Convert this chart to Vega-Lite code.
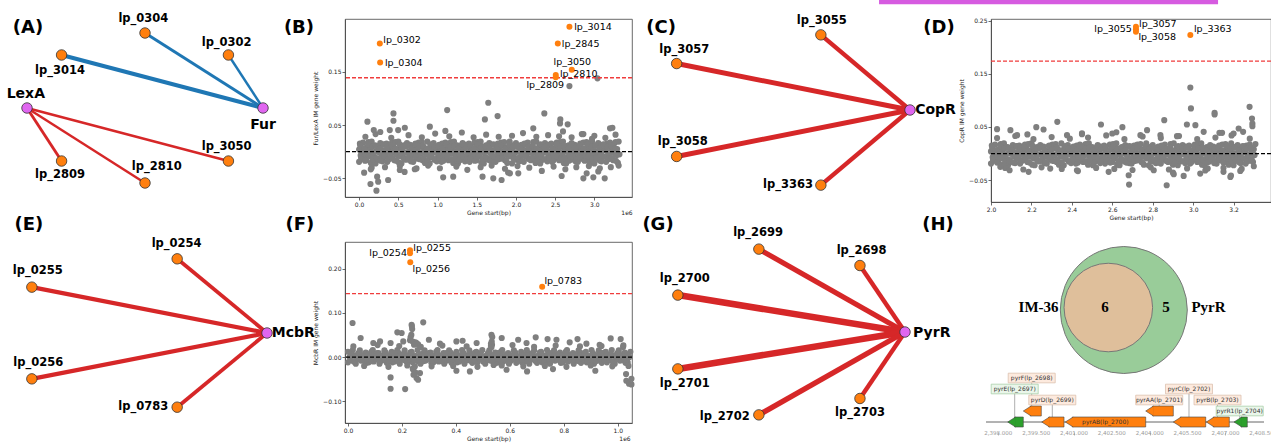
{
"$schema":"https://vega.github.io/schema/vega-lite/v6.json",
"padding":0,
"background":"white",
"columns":4,
"spacing":{"row":40,"column":0},
"bounds":"flush",
"align":"each",
"resolve":{"scale":{"color":"independent","fill":"independent","stroke":"independent","size":"independent","strokeWidth":"independent"}},
"config":{"view":{"stroke":null},"font":"DejaVu Sans","text":{"font":"DejaVu Sans"},
"axis":{"grid":false,"labelFont":"DejaVu Sans","titleFont":"DejaVu Sans","labelFontSize":6,"titleFontSize":6,"titleFontWeight":"normal","labelColor":"#222","titleColor":"#222","tickColor":"#444","domainColor":"#444","tickSize":3,"labelPadding":1,"labelFlush":false,"labelOverlap":false,"domainWidth":0.8,"tickWidth":0.8}},
"datasets":{
"nA":[{"id":"Fur","type":"reg","x":1,"y":0,"lx":1.0,"ly":-0.22},{"id":"lp_0302","type":"gene","x":0.707,"y":0.707,"lx":0.692,"ly":0.862},{"id":"lp_0304","type":"gene","x":0,"y":1,"lx":-0.014,"ly":1.184},{"id":"lp_3014","type":"gene","x":-0.707,"y":0.707,"lx":-0.72,"ly":0.5},{"id":"LexA","type":"reg","x":-1,"y":0,"lx":-1.01,"ly":0.191},{"id":"lp_2809","type":"gene","x":-0.707,"y":-0.707,"lx":-0.72,"ly":-0.893},{"id":"lp_2810","type":"gene","x":0,"y":-1,"lx":0.099,"ly":-0.782},{"id":"lp_3050","type":"gene","x":0.707,"y":-0.707,"lx":0.692,"ly":-0.516}],
"eA":[{"reg":"Fur","gene":"lp_3014","x":1,"y":0,"x2":-0.707,"y2":0.707,"w":0.5},{"reg":"Fur","gene":"lp_0304","x":1,"y":0,"x2":0,"y2":1,"w":0.38},{"reg":"Fur","gene":"lp_0302","x":1,"y":0,"x2":0.707,"y2":0.707,"w":0.3},{"reg":"LexA","gene":"lp_3050","x":-1,"y":0,"x2":0.707,"y2":-0.707,"w":0.31},{"reg":"LexA","gene":"lp_2810","x":-1,"y":0,"x2":0,"y2":-1,"w":0.31},{"reg":"LexA","gene":"lp_2809","x":-1,"y":0,"x2":-0.707,"y2":-0.707,"w":0.36}],
"nC":[{"id":"CopR","type":"reg","x":1,"y":0,"lx":1.198,"ly":0.004},{"id":"lp_3055","type":"gene","x":0.309,"y":0.951,"lx":0.316,"ly":1.123},{"id":"lp_3057","type":"gene","x":-0.809,"y":0.588,"lx":-0.75,"ly":0.759},{"id":"lp_3058","type":"gene","x":-0.809,"y":-0.588,"lx":-0.761,"ly":-0.401},{"id":"lp_3363","type":"gene","x":0.309,"y":-0.951,"lx":0.054,"ly":-0.949}],
"eC":[{"reg":"CopR","gene":"lp_3055","x":1,"y":0,"x2":0.309,"y2":0.951,"w":0.55},{"reg":"CopR","gene":"lp_3057","x":1,"y":0,"x2":-0.809,"y2":0.588,"w":0.62},{"reg":"CopR","gene":"lp_3058","x":1,"y":0,"x2":-0.809,"y2":-0.588,"w":0.62},{"reg":"CopR","gene":"lp_3363","x":1,"y":0,"x2":0.309,"y2":-0.951,"w":0.55}],
"nE":[{"id":"McbR","type":"reg","x":1,"y":0,"lx":1.202,"ly":-0.004},{"id":"lp_0254","type":"gene","x":0.309,"y":0.951,"lx":0.305,"ly":1.137},{"id":"lp_0255","type":"gene","x":-0.809,"y":0.588,"lx":-0.764,"ly":0.797},{"id":"lp_0256","type":"gene","x":-0.809,"y":-0.588,"lx":-0.759,"ly":-0.381},{"id":"lp_0783","type":"gene","x":0.309,"y":-0.951,"lx":0.048,"ly":-0.953}],
"eE":[{"reg":"McbR","gene":"lp_0254","x":1,"y":0,"x2":0.309,"y2":0.951,"w":0.47},{"reg":"McbR","gene":"lp_0255","x":1,"y":0,"x2":-0.809,"y2":0.588,"w":0.52},{"reg":"McbR","gene":"lp_0256","x":1,"y":0,"x2":-0.809,"y2":-0.588,"w":0.52},{"reg":"McbR","gene":"lp_0783","x":1,"y":0,"x2":0.309,"y2":-0.951,"w":0.47}],
"nG":[{"id":"PyrR","type":"reg","x":1,"y":0,"lx":1.224,"ly":-0.008},{"id":"lp_2698","type":"gene","x":0.623,"y":0.782,"lx":0.637,"ly":0.956},{"id":"lp_2699","type":"gene","x":-0.223,"y":0.975,"lx":-0.229,"ly":1.161},{"id":"lp_2700","type":"gene","x":-0.901,"y":0.434,"lx":-0.843,"ly":0.62},{"id":"lp_2701","type":"gene","x":-0.901,"y":-0.434,"lx":-0.843,"ly":-0.615},{"id":"lp_2702","type":"gene","x":-0.223,"y":-0.975,"lx":-0.508,"ly":-0.996},{"id":"lp_2703","type":"gene","x":0.623,"y":-0.782,"lx":0.623,"ly":-0.956}],
"eG":[{"reg":"PyrR","gene":"lp_2698","x":1,"y":0,"x2":0.623,"y2":0.782,"w":0.55},{"reg":"PyrR","gene":"lp_2699","x":1,"y":0,"x2":-0.223,"y2":0.975,"w":0.65},{"reg":"PyrR","gene":"lp_2700","x":1,"y":0,"x2":-0.901,"y2":0.434,"w":0.82},{"reg":"PyrR","gene":"lp_2701","x":1,"y":0,"x2":-0.901,"y2":-0.434,"w":0.82},{"reg":"PyrR","gene":"lp_2702","x":1,"y":0,"x2":-0.223,"y2":-0.975,"w":0.68},{"reg":"PyrR","gene":"lp_2703","x":1,"y":0,"x2":0.623,"y2":-0.782,"w":0.55}],
"banner":[{"x":0.76,"x2":3.388,"y":1.338,"y2":1.392}],
"bH":[{"id":"lp_0302","x":0.264,"y":0.2032,"lx":0.548,"ly":0.2094},{"id":"lp_0304","x":0.268,"y":0.1676,"lx":0.569,"ly":0.1673},{"id":"lp_3014","x":2.682,"y":0.2344,"lx":2.982,"ly":0.2344},{"id":"lp_2845","x":2.534,"y":0.2032,"lx":2.825,"ly":0.2029},{"id":"lp_3050","x":2.712,"y":0.1538,"lx":2.719,"ly":0.1691},{"id":"lp_2810","x":2.508,"y":0.1438,"lx":2.8,"ly":0.1453},{"id":"lp_2809","x":2.508,"y":0.1395,"lx":2.374,"ly":0.1256}],
"dH":[{"id":"lp_3055","x":2.717,"y":0.234,"lx":2.604,"ly":0.2334},{"id":"lp_3057","x":2.717,"y":0.2387,"lx":2.825,"ly":0.2441},{"id":"lp_3058","x":2.717,"y":0.2292,"lx":2.822,"ly":0.2192},{"id":"lp_3363","x":2.986,"y":0.223,"lx":3.097,"ly":0.2334}],
"fH":[{"id":"lp_0254","x":0.23,"y":0.2345,"lx":0.149,"ly":0.2341},{"id":"lp_0255","x":0.23,"y":0.2413,"lx":0.312,"ly":0.2454},{"id":"lp_0256","x":0.231,"y":0.2141,"lx":0.309,"ly":0.1987},{"id":"lp_0783","x":0.72,"y":0.1591,"lx":0.798,"ly":0.1712}],
"genes":[{"label":"pyrE(lp_2697)","left":2398373,"right":2398991,"glevel":0,"lx":2398650,"llevel":3,"grp":"green","inside":0},{"label":"pyrF(lp_2698)","left":2398991,"right":2399704,"glevel":1,"lx":2399324,"llevel":4,"grp":"orange","inside":0},{"label":"pyrD(lp_2699)","left":2399720,"right":2400604,"glevel":0,"lx":2400140,"llevel":2,"grp":"orange","inside":0},{"label":"pyrAB(lp_2700)","left":2400655,"right":2403840,"glevel":0,"lx":2402240,"llevel":0,"grp":"orange","inside":1},{"label":"pyrAA(lp_2701)","left":2403840,"right":2404934,"glevel":1,"lx":2404376,"llevel":2,"grp":"orange","inside":0},{"label":"pyrC(lp_2702)","left":2404934,"right":2406218,"glevel":0,"lx":2405556,"llevel":3,"grp":"orange","inside":0},{"label":"pyrB(lp_2703)","left":2406242,"right":2407153,"glevel":0,"lx":2406686,"llevel":2,"grp":"orange","inside":0},{"label":"pyrR1(lp_2704)","left":2407339,"right":2407866,"glevel":0,"lx":2407565,"llevel":1,"grp":"green","inside":0}],
"gticks":[{"bp":2398000,"lab":"2,398.000"},{"bp":2399500,"lab":"2,399.500"},{"bp":2401000,"lab":"2,401.000"},{"bp":2402500,"lab":"2,402.500"},{"bp":2404000,"lab":"2,404.000"},{"bp":2405500,"lab":"2,405.500"},{"bp":2407000,"lab":"2,407.000"},{"bp":2408500,"lab":"2,408.500"}],
"venn":[{"set":"PyrR","count":11,"x":0,"y":0},{"set":"IM-36","count":6,"x":-0.244,"y":0.039}],
"vtext":[{"t":"IM-36","x":-1.342,"y":0.047},{"t":"6","x":-0.296,"y":0.047},{"t":"5","x":0.665,"y":0.047},{"t":"PyrR","x":1.334,"y":0.047}],
"bG":[
{"x":0,"y":-0.019},{"x":0.02,"y":-0.007},{"x":0,"y":0.004},{"x":0.01,"y":0.015},
{"x":0.06,"y":-0.013},{"x":0.04,"y":-0.004},{"x":0.07,"y":0.006},{"x":0.05,"y":0.017},
{"x":0.09,"y":-0.016},{"x":0.11,"y":-0.003},{"x":0.1,"y":0.008},{"x":0.12,"y":0.018},
{"x":0.15,"y":-0.021},{"x":0.17,"y":-0.005},{"x":0.14,"y":0.005},{"x":0.16,"y":0.019},
{"x":0.21,"y":-0.022},{"x":0.19,"y":-0.01},{"x":0.22,"y":0.001},{"x":0.2,"y":0.012},
{"x":0.24,"y":-0.015},{"x":0.26,"y":-0.001},{"x":0.25,"y":0.01},{"x":0.27,"y":0.016},
{"x":0.3,"y":-0.018},{"x":0.32,"y":-0.009},{"x":0.29,"y":0.002},{"x":0.31,"y":0.013},
{"x":0.36,"y":-0.019},{"x":0.34,"y":-0.007},{"x":0.37,"y":0.004},{"x":0.35,"y":0.015},
{"x":0.39,"y":-0.013},{"x":0.41,"y":-0.004},{"x":0.4,"y":0.006},{"x":0.42,"y":0.017},
{"x":0.45,"y":-0.016},{"x":0.47,"y":-0.003},{"x":0.44,"y":0.008},{"x":0.46,"y":0.018},
{"x":0.51,"y":-0.021},{"x":0.49,"y":-0.005},{"x":0.52,"y":0.005},{"x":0.5,"y":0.019},
{"x":0.54,"y":-0.022},{"x":0.56,"y":-0.01},{"x":0.55,"y":0.001},{"x":0.57,"y":0.012},
{"x":0.6,"y":-0.015},{"x":0.62,"y":-0.001},{"x":0.59,"y":0.01},{"x":0.61,"y":0.016},
{"x":0.66,"y":-0.018},{"x":0.64,"y":-0.009},{"x":0.67,"y":0.002},{"x":0.65,"y":0.013},
{"x":0.69,"y":-0.019},{"x":0.71,"y":-0.007},{"x":0.7,"y":0.004},{"x":0.72,"y":0.015},
{"x":0.75,"y":-0.013},{"x":0.77,"y":-0.004},{"x":0.74,"y":0.006},{"x":0.76,"y":0.017},
{"x":0.81,"y":-0.016},{"x":0.79,"y":-0.003},{"x":0.82,"y":0.008},{"x":0.8,"y":0.018},
{"x":0.84,"y":-0.021},{"x":0.86,"y":-0.005},{"x":0.85,"y":0.005},{"x":0.87,"y":0.019},
{"x":0.9,"y":-0.022},{"x":0.92,"y":-0.01},{"x":0.89,"y":0.001},{"x":0.91,"y":0.012},
{"x":0.96,"y":-0.015},{"x":0.94,"y":-0.001},{"x":0.97,"y":0.01},{"x":0.95,"y":0.016},
{"x":0.99,"y":-0.018},{"x":1.01,"y":-0.009},{"x":1,"y":0.002},{"x":1.02,"y":0.013},
{"x":1.05,"y":-0.019},{"x":1.07,"y":-0.007},{"x":1.04,"y":0.004},{"x":1.06,"y":0.015},
{"x":1.11,"y":-0.013},{"x":1.09,"y":-0.004},{"x":1.12,"y":0.006},{"x":1.1,"y":0.017},
{"x":1.14,"y":-0.016},{"x":1.16,"y":-0.003},{"x":1.15,"y":0.008},{"x":1.17,"y":0.018},
{"x":1.2,"y":-0.021},{"x":1.22,"y":-0.005},{"x":1.19,"y":0.005},{"x":1.21,"y":0.019},
{"x":1.26,"y":-0.022},{"x":1.24,"y":-0.01},{"x":1.27,"y":0.001},{"x":1.25,"y":0.012},
{"x":1.29,"y":-0.015},{"x":1.31,"y":-0.001},{"x":1.3,"y":0.01},{"x":1.32,"y":0.016},
{"x":1.35,"y":-0.018},{"x":1.37,"y":-0.009},{"x":1.34,"y":0.002},{"x":1.36,"y":0.013},
{"x":1.41,"y":-0.019},{"x":1.39,"y":-0.007},{"x":1.42,"y":0.004},{"x":1.4,"y":0.015},
{"x":1.44,"y":-0.013},{"x":1.46,"y":-0.004},{"x":1.45,"y":0.006},{"x":1.47,"y":0.017},
{"x":1.5,"y":-0.016},{"x":1.52,"y":-0.003},{"x":1.49,"y":0.008},{"x":1.51,"y":0.018},
{"x":1.56,"y":-0.021},{"x":1.54,"y":-0.005},{"x":1.57,"y":0.005},{"x":1.55,"y":0.019},
{"x":1.59,"y":-0.022},{"x":1.61,"y":-0.01},{"x":1.6,"y":0.001},{"x":1.62,"y":0.012},
{"x":1.65,"y":-0.015},{"x":1.67,"y":-0.001},{"x":1.64,"y":0.01},{"x":1.66,"y":0.016},
{"x":1.71,"y":-0.018},{"x":1.69,"y":-0.009},{"x":1.72,"y":0.002},{"x":1.7,"y":0.013},
{"x":1.74,"y":-0.019},{"x":1.76,"y":-0.007},{"x":1.75,"y":0.004},{"x":1.77,"y":0.015},
{"x":1.8,"y":-0.013},{"x":1.82,"y":-0.004},{"x":1.79,"y":0.006},{"x":1.81,"y":0.017},
{"x":1.86,"y":-0.016},{"x":1.84,"y":-0.003},{"x":1.87,"y":0.008},{"x":1.85,"y":0.018},
{"x":1.89,"y":-0.021},{"x":1.91,"y":-0.005},{"x":1.9,"y":0.005},{"x":1.92,"y":0.019},
{"x":1.95,"y":-0.022},{"x":1.97,"y":-0.01},{"x":1.94,"y":0.001},{"x":1.96,"y":0.012},
{"x":2.01,"y":-0.015},{"x":1.99,"y":-0.001},{"x":2.02,"y":0.01},{"x":2,"y":0.016},
{"x":2.04,"y":-0.018},{"x":2.06,"y":-0.009},{"x":2.05,"y":0.002},{"x":2.07,"y":0.013},
{"x":2.1,"y":-0.019},{"x":2.12,"y":-0.007},{"x":2.09,"y":0.004},{"x":2.11,"y":0.015},
{"x":2.16,"y":-0.013},{"x":2.14,"y":-0.004},{"x":2.17,"y":0.006},{"x":2.15,"y":0.017},
{"x":2.19,"y":-0.016},{"x":2.21,"y":-0.003},{"x":2.2,"y":0.008},{"x":2.22,"y":0.018},
{"x":2.25,"y":-0.021},{"x":2.27,"y":-0.005},{"x":2.24,"y":0.005},{"x":2.26,"y":0.019},
{"x":2.31,"y":-0.022},{"x":2.29,"y":-0.01},{"x":2.32,"y":0.001},{"x":2.3,"y":0.012},
{"x":2.34,"y":-0.015},{"x":2.36,"y":-0.001},{"x":2.35,"y":0.01},{"x":2.37,"y":0.016},
{"x":2.4,"y":-0.018},{"x":2.42,"y":-0.009},{"x":2.39,"y":0.002},{"x":2.41,"y":0.013},
{"x":2.46,"y":-0.019},{"x":2.44,"y":-0.007},{"x":2.47,"y":0.004},{"x":2.45,"y":0.015},
{"x":2.49,"y":-0.013},{"x":2.51,"y":-0.004},{"x":2.5,"y":0.006},{"x":2.52,"y":0.017},
{"x":2.55,"y":-0.016},{"x":2.57,"y":-0.003},{"x":2.54,"y":0.008},{"x":2.56,"y":0.018},
{"x":2.61,"y":-0.021},{"x":2.59,"y":-0.005},{"x":2.62,"y":0.005},{"x":2.6,"y":0.019},
{"x":2.64,"y":-0.022},{"x":2.66,"y":-0.01},{"x":2.65,"y":0.001},{"x":2.67,"y":0.012},
{"x":2.7,"y":-0.015},{"x":2.72,"y":-0.001},{"x":2.69,"y":0.01},{"x":2.71,"y":0.016},
{"x":2.76,"y":-0.018},{"x":2.74,"y":-0.009},{"x":2.77,"y":0.002},{"x":2.75,"y":0.013},
{"x":2.79,"y":-0.019},{"x":2.81,"y":-0.007},{"x":2.8,"y":0.004},{"x":2.82,"y":0.015},
{"x":2.85,"y":-0.013},{"x":2.87,"y":-0.004},{"x":2.84,"y":0.006},{"x":2.86,"y":0.017},
{"x":2.91,"y":-0.016},{"x":2.89,"y":-0.003},{"x":2.92,"y":0.008},{"x":2.9,"y":0.018},
{"x":2.94,"y":-0.021},{"x":2.96,"y":-0.005},{"x":2.95,"y":0.005},{"x":2.97,"y":0.019},
{"x":3,"y":-0.022},{"x":3.02,"y":-0.01},{"x":2.99,"y":0.001},{"x":3.01,"y":0.012},
{"x":3.06,"y":-0.015},{"x":3.04,"y":-0.001},{"x":3.07,"y":0.01},{"x":3.05,"y":0.016},
{"x":3.09,"y":-0.018},{"x":3.11,"y":-0.009},{"x":3.1,"y":0.002},{"x":3.12,"y":0.013},
{"x":3.15,"y":-0.019},{"x":3.17,"y":-0.007},{"x":3.14,"y":0.004},{"x":3.16,"y":0.015},
{"x":3.21,"y":-0.013},{"x":3.19,"y":-0.004},{"x":3.22,"y":0.006},{"x":3.2,"y":0.017},
{"x":3.24,"y":-0.016},{"x":3.26,"y":-0.003},{"x":3.25,"y":0.008},{"x":3.27,"y":0.018},
{"x":3.3,"y":-0.021},{"x":3.32,"y":-0.005},{"x":3.29,"y":0.005},{"x":3.31,"y":0.019},
{"x":0.025,"y":-0.012},{"x":0.035,"y":0},{"x":0.015,"y":0.011},
{"x":0.075,"y":-0.017},{"x":0.085,"y":-0.006},{"x":0.065,"y":0.006},
{"x":0.125,"y":-0.009},{"x":0.135,"y":0.003},{"x":0.115,"y":0.014},
{"x":0.175,"y":-0.014},{"x":0.185,"y":-0.002},{"x":0.165,"y":0.009},
{"x":0.225,"y":-0.012},{"x":0.235,"y":0},{"x":0.215,"y":0.011},
{"x":0.275,"y":-0.017},{"x":0.285,"y":-0.006},{"x":0.265,"y":0.006},
{"x":0.325,"y":-0.009},{"x":0.335,"y":0.003},{"x":0.315,"y":0.014},
{"x":0.375,"y":-0.014},{"x":0.385,"y":-0.002},{"x":0.365,"y":0.009},
{"x":0.425,"y":-0.012},{"x":0.435,"y":0},{"x":0.415,"y":0.011},
{"x":0.475,"y":-0.017},{"x":0.485,"y":-0.006},{"x":0.465,"y":0.006},
{"x":0.525,"y":-0.009},{"x":0.535,"y":0.003},{"x":0.515,"y":0.014},
{"x":0.575,"y":-0.014},{"x":0.585,"y":-0.002},{"x":0.565,"y":0.009},
{"x":0.625,"y":-0.012},{"x":0.635,"y":0},{"x":0.615,"y":0.011},
{"x":0.675,"y":-0.017},{"x":0.685,"y":-0.006},{"x":0.665,"y":0.006},
{"x":0.725,"y":-0.009},{"x":0.735,"y":0.003},{"x":0.715,"y":0.014},
{"x":0.775,"y":-0.014},{"x":0.785,"y":-0.002},{"x":0.765,"y":0.009},
{"x":0.825,"y":-0.012},{"x":0.835,"y":0},{"x":0.815,"y":0.011},
{"x":0.875,"y":-0.017},{"x":0.885,"y":-0.006},{"x":0.865,"y":0.006},
{"x":0.925,"y":-0.009},{"x":0.935,"y":0.003},{"x":0.915,"y":0.014},
{"x":0.975,"y":-0.014},{"x":0.985,"y":-0.002},{"x":0.965,"y":0.009},
{"x":1.025,"y":-0.012},{"x":1.035,"y":0},{"x":1.015,"y":0.011},
{"x":1.075,"y":-0.017},{"x":1.085,"y":-0.006},{"x":1.065,"y":0.006},
{"x":1.125,"y":-0.009},{"x":1.135,"y":0.003},{"x":1.115,"y":0.014},
{"x":1.175,"y":-0.014},{"x":1.185,"y":-0.002},{"x":1.165,"y":0.009},
{"x":1.225,"y":-0.012},{"x":1.235,"y":0},{"x":1.215,"y":0.011},
{"x":1.275,"y":-0.017},{"x":1.285,"y":-0.006},{"x":1.265,"y":0.006},
{"x":1.325,"y":-0.009},{"x":1.335,"y":0.003},{"x":1.315,"y":0.014},
{"x":1.375,"y":-0.014},{"x":1.385,"y":-0.002},{"x":1.365,"y":0.009},
{"x":1.425,"y":-0.012},{"x":1.435,"y":0},{"x":1.415,"y":0.011},
{"x":1.475,"y":-0.017},{"x":1.485,"y":-0.006},{"x":1.465,"y":0.006},
{"x":1.525,"y":-0.009},{"x":1.535,"y":0.003},{"x":1.515,"y":0.014},
{"x":1.575,"y":-0.014},{"x":1.585,"y":-0.002},{"x":1.565,"y":0.009},
{"x":1.625,"y":-0.012},{"x":1.635,"y":0},{"x":1.615,"y":0.011},
{"x":1.675,"y":-0.017},{"x":1.685,"y":-0.006},{"x":1.665,"y":0.006},
{"x":1.725,"y":-0.009},{"x":1.735,"y":0.003},{"x":1.715,"y":0.014},
{"x":1.775,"y":-0.014},{"x":1.785,"y":-0.002},{"x":1.765,"y":0.009},
{"x":1.825,"y":-0.012},{"x":1.835,"y":0},{"x":1.815,"y":0.011},
{"x":1.875,"y":-0.017},{"x":1.885,"y":-0.006},{"x":1.865,"y":0.006},
{"x":1.925,"y":-0.009},{"x":1.935,"y":0.003},{"x":1.915,"y":0.014},
{"x":1.975,"y":-0.014},{"x":1.985,"y":-0.002},{"x":1.965,"y":0.009},
{"x":2.025,"y":-0.012},{"x":2.035,"y":0},{"x":2.015,"y":0.011},
{"x":2.075,"y":-0.017},{"x":2.085,"y":-0.006},{"x":2.065,"y":0.006},
{"x":2.125,"y":-0.009},{"x":2.135,"y":0.003},{"x":2.115,"y":0.014},
{"x":2.175,"y":-0.014},{"x":2.185,"y":-0.002},{"x":2.165,"y":0.009},
{"x":2.225,"y":-0.012},{"x":2.235,"y":0},{"x":2.215,"y":0.011},
{"x":2.275,"y":-0.017},{"x":2.285,"y":-0.006},{"x":2.265,"y":0.006},
{"x":2.325,"y":-0.009},{"x":2.335,"y":0.003},{"x":2.315,"y":0.014},
{"x":2.375,"y":-0.014},{"x":2.385,"y":-0.002},{"x":2.365,"y":0.009},
{"x":2.425,"y":-0.012},{"x":2.435,"y":0},{"x":2.415,"y":0.011},
{"x":2.475,"y":-0.017},{"x":2.485,"y":-0.006},{"x":2.465,"y":0.006},
{"x":2.525,"y":-0.009},{"x":2.535,"y":0.003},{"x":2.515,"y":0.014},
{"x":2.575,"y":-0.014},{"x":2.585,"y":-0.002},{"x":2.565,"y":0.009},
{"x":2.625,"y":-0.012},{"x":2.635,"y":0},{"x":2.615,"y":0.011},
{"x":2.675,"y":-0.017},{"x":2.685,"y":-0.006},{"x":2.665,"y":0.006},
{"x":2.725,"y":-0.009},{"x":2.735,"y":0.003},{"x":2.715,"y":0.014},
{"x":2.775,"y":-0.014},{"x":2.785,"y":-0.002},{"x":2.765,"y":0.009},
{"x":2.825,"y":-0.012},{"x":2.835,"y":0},{"x":2.815,"y":0.011},
{"x":2.875,"y":-0.017},{"x":2.885,"y":-0.006},{"x":2.865,"y":0.006},
{"x":2.925,"y":-0.009},{"x":2.935,"y":0.003},{"x":2.915,"y":0.014},
{"x":2.975,"y":-0.014},{"x":2.985,"y":-0.002},{"x":2.965,"y":0.009},
{"x":3.025,"y":-0.012},{"x":3.035,"y":0},{"x":3.015,"y":0.011},
{"x":3.075,"y":-0.017},{"x":3.085,"y":-0.006},{"x":3.065,"y":0.006},
{"x":3.125,"y":-0.009},{"x":3.135,"y":0.003},{"x":3.115,"y":0.014},
{"x":3.175,"y":-0.014},{"x":3.185,"y":-0.002},{"x":3.165,"y":0.009},
{"x":3.225,"y":-0.012},{"x":3.235,"y":0},{"x":3.215,"y":0.011},
{"x":3.275,"y":-0.017},{"x":3.285,"y":-0.006},{"x":3.265,"y":0.006},
{"x":0.08,"y":0.028},{"x":0.21,"y":0.033},{"x":0.33,"y":-0.029},{"x":0.41,"y":0.026},{"x":0.52,"y":-0.027},{"x":0.63,"y":0.031},{"x":0.71,"y":-0.033},{"x":0.8,"y":0.027},{"x":0.88,"y":-0.026},{"x":0.97,"y":0.034},{"x":1.03,"y":-0.031},{"x":1.15,"y":0.029},{"x":1.24,"y":-0.028},{"x":1.31,"y":0.036},{"x":1.38,"y":-0.034},{"x":1.46,"y":0.027},{"x":1.55,"y":-0.029},{"x":1.62,"y":0.032},{"x":1.69,"y":-0.026},{"x":1.78,"y":0.028},{"x":1.86,"y":-0.032},{"x":1.95,"y":0.03},{"x":2.02,"y":-0.027},{"x":2.09,"y":0.035},{"x":2.17,"y":-0.03},{"x":2.26,"y":0.028},{"x":2.33,"y":-0.036},{"x":2.41,"y":0.031},{"x":2.48,"y":-0.028},{"x":2.55,"y":0.029},{"x":2.63,"y":-0.033},{"x":2.71,"y":0.027},{"x":2.77,"y":-0.029},{"x":2.84,"y":0.033},{"x":2.93,"y":-0.027},{"x":3,"y":0.03},{"x":3.07,"y":-0.031},{"x":3.14,"y":0.026},{"x":3.21,"y":-0.029},{"x":3.27,"y":0.032},{"x":3.31,"y":-0.026},{"x":0.27,"y":0.037},{"x":0.58,"y":-0.038},{"x":1.1,"y":0.039},{"x":1.9,"y":-0.039},{"x":2.6,"y":0.038},{"x":3.05,"y":-0.037},{"x":0.16,"y":-0.03},{"x":2.97,"y":0.024},
{"x":1.647,"y":0.0919},{"x":1.123,"y":0.0781},{"x":1.766,"y":0.0669},{"x":2.362,"y":0.0719},{"x":0.438,"y":0.0719},{"x":0.438,"y":0.0581},{"x":0.106,"y":0.0563},{"x":1.604,"y":0.0606},{"x":2.566,"y":0.0606},{"x":2.562,"y":0.0531},{"x":0.583,"y":0.045},{"x":0.902,"y":0.0469},{"x":2.66,"y":0.0513},{"x":2.221,"y":0.0438},{"x":3.2,"y":0.0438},{"x":3.23,"y":0.045},{"x":2.86,"y":0.0331},{"x":0.187,"y":0.0406},{"x":0.391,"y":0.0406},{"x":0.498,"y":0.0406},{"x":0.221,"y":-0.0731},{"x":0.145,"y":-0.0606},{"x":0.064,"y":-0.0394},{"x":0.149,"y":-0.0331},{"x":0.23,"y":-0.0469},{"x":0.37,"y":-0.0531},{"x":0.243,"y":-0.0563},{"x":1.072,"y":-0.0481},{"x":1.2,"y":-0.0469},{"x":1.574,"y":-0.0469},{"x":1.711,"y":-0.05},{"x":1.817,"y":-0.0531},{"x":1.923,"y":-0.0406},{"x":2.03,"y":-0.0406},{"x":2.583,"y":-0.0456},{"x":2.86,"y":-0.05},{"x":2.987,"y":-0.0481},{"x":3.132,"y":-0.05},{"x":2.902,"y":-0.0406},{"x":0.519,"y":-0.0344},{"x":0.732,"y":-0.0313},{"x":2.682,"y":0.1232},{"x":3.04,"y":0.1376}],
"dG":[
{"x":2.0,"y":-0.019},{"x":2.008,"y":-0.007},{"x":2.0,"y":0.004},{"x":2.004,"y":0.015},
{"x":2.024,"y":-0.013},{"x":2.016,"y":-0.004},{"x":2.028,"y":0.006},{"x":2.02,"y":0.017},
{"x":2.036,"y":-0.016},{"x":2.044,"y":-0.003},{"x":2.04,"y":0.008},{"x":2.048,"y":0.018},
{"x":2.06,"y":-0.021},{"x":2.068,"y":-0.005},{"x":2.056,"y":0.005},{"x":2.064,"y":0.019},
{"x":2.084,"y":-0.022},{"x":2.076,"y":-0.01},{"x":2.088,"y":0.001},{"x":2.08,"y":0.012},
{"x":2.096,"y":-0.015},{"x":2.104,"y":-0.001},{"x":2.1,"y":0.01},{"x":2.108,"y":0.016},
{"x":2.12,"y":-0.018},{"x":2.128,"y":-0.009},{"x":2.116,"y":0.002},{"x":2.124,"y":0.013},
{"x":2.144,"y":-0.019},{"x":2.136,"y":-0.007},{"x":2.148,"y":0.004},{"x":2.14,"y":0.015},
{"x":2.156,"y":-0.013},{"x":2.164,"y":-0.004},{"x":2.16,"y":0.006},{"x":2.168,"y":0.017},
{"x":2.18,"y":-0.016},{"x":2.188,"y":-0.003},{"x":2.176,"y":0.008},{"x":2.184,"y":0.018},
{"x":2.204,"y":-0.021},{"x":2.196,"y":-0.005},{"x":2.208,"y":0.005},{"x":2.2,"y":0.019},
{"x":2.216,"y":-0.022},{"x":2.224,"y":-0.01},{"x":2.22,"y":0.001},{"x":2.228,"y":0.012},
{"x":2.24,"y":-0.015},{"x":2.248,"y":-0.001},{"x":2.236,"y":0.01},{"x":2.244,"y":0.016},
{"x":2.264,"y":-0.018},{"x":2.256,"y":-0.009},{"x":2.268,"y":0.002},{"x":2.26,"y":0.013},
{"x":2.276,"y":-0.019},{"x":2.284,"y":-0.007},{"x":2.28,"y":0.004},{"x":2.288,"y":0.015},
{"x":2.3,"y":-0.013},{"x":2.308,"y":-0.004},{"x":2.296,"y":0.006},{"x":2.304,"y":0.017},
{"x":2.324,"y":-0.016},{"x":2.316,"y":-0.003},{"x":2.328,"y":0.008},{"x":2.32,"y":0.018},
{"x":2.336,"y":-0.021},{"x":2.344,"y":-0.005},{"x":2.34,"y":0.005},{"x":2.348,"y":0.019},
{"x":2.36,"y":-0.022},{"x":2.368,"y":-0.01},{"x":2.356,"y":0.001},{"x":2.364,"y":0.012},
{"x":2.384,"y":-0.015},{"x":2.376,"y":-0.001},{"x":2.388,"y":0.01},{"x":2.38,"y":0.016},
{"x":2.396,"y":-0.018},{"x":2.404,"y":-0.009},{"x":2.4,"y":0.002},{"x":2.408,"y":0.013},
{"x":2.42,"y":-0.019},{"x":2.428,"y":-0.007},{"x":2.416,"y":0.004},{"x":2.424,"y":0.015},
{"x":2.444,"y":-0.013},{"x":2.436,"y":-0.004},{"x":2.448,"y":0.006},{"x":2.44,"y":0.017},
{"x":2.456,"y":-0.016},{"x":2.464,"y":-0.003},{"x":2.46,"y":0.008},{"x":2.468,"y":0.018},
{"x":2.48,"y":-0.021},{"x":2.488,"y":-0.005},{"x":2.476,"y":0.005},{"x":2.484,"y":0.019},
{"x":2.504,"y":-0.022},{"x":2.496,"y":-0.01},{"x":2.508,"y":0.001},{"x":2.5,"y":0.012},
{"x":2.516,"y":-0.015},{"x":2.524,"y":-0.001},{"x":2.52,"y":0.01},{"x":2.528,"y":0.016},
{"x":2.54,"y":-0.018},{"x":2.548,"y":-0.009},{"x":2.536,"y":0.002},{"x":2.544,"y":0.013},
{"x":2.564,"y":-0.019},{"x":2.556,"y":-0.007},{"x":2.568,"y":0.004},{"x":2.56,"y":0.015},
{"x":2.576,"y":-0.013},{"x":2.584,"y":-0.004},{"x":2.58,"y":0.006},{"x":2.588,"y":0.017},
{"x":2.6,"y":-0.016},{"x":2.608,"y":-0.003},{"x":2.596,"y":0.008},{"x":2.604,"y":0.018},
{"x":2.624,"y":-0.021},{"x":2.616,"y":-0.005},{"x":2.628,"y":0.005},{"x":2.62,"y":0.019},
{"x":2.636,"y":-0.022},{"x":2.644,"y":-0.01},{"x":2.64,"y":0.001},{"x":2.648,"y":0.012},
{"x":2.66,"y":-0.015},{"x":2.668,"y":-0.001},{"x":2.656,"y":0.01},{"x":2.664,"y":0.016},
{"x":2.684,"y":-0.018},{"x":2.676,"y":-0.009},{"x":2.688,"y":0.002},{"x":2.68,"y":0.013},
{"x":2.696,"y":-0.019},{"x":2.704,"y":-0.007},{"x":2.7,"y":0.004},{"x":2.708,"y":0.015},
{"x":2.72,"y":-0.013},{"x":2.728,"y":-0.004},{"x":2.716,"y":0.006},{"x":2.724,"y":0.017},
{"x":2.744,"y":-0.016},{"x":2.736,"y":-0.003},{"x":2.748,"y":0.008},{"x":2.74,"y":0.018},
{"x":2.756,"y":-0.021},{"x":2.764,"y":-0.005},{"x":2.76,"y":0.005},{"x":2.768,"y":0.019},
{"x":2.78,"y":-0.022},{"x":2.788,"y":-0.01},{"x":2.776,"y":0.001},{"x":2.784,"y":0.012},
{"x":2.804,"y":-0.015},{"x":2.796,"y":-0.001},{"x":2.808,"y":0.01},{"x":2.8,"y":0.016},
{"x":2.816,"y":-0.018},{"x":2.824,"y":-0.009},{"x":2.82,"y":0.002},{"x":2.828,"y":0.013},
{"x":2.84,"y":-0.019},{"x":2.848,"y":-0.007},{"x":2.836,"y":0.004},{"x":2.844,"y":0.015},
{"x":2.864,"y":-0.013},{"x":2.856,"y":-0.004},{"x":2.868,"y":0.006},{"x":2.86,"y":0.017},
{"x":2.876,"y":-0.016},{"x":2.884,"y":-0.003},{"x":2.88,"y":0.008},{"x":2.888,"y":0.018},
{"x":2.9,"y":-0.021},{"x":2.908,"y":-0.005},{"x":2.896,"y":0.005},{"x":2.904,"y":0.019},
{"x":2.924,"y":-0.022},{"x":2.916,"y":-0.01},{"x":2.928,"y":0.001},{"x":2.92,"y":0.012},
{"x":2.936,"y":-0.015},{"x":2.944,"y":-0.001},{"x":2.94,"y":0.01},{"x":2.948,"y":0.016},
{"x":2.96,"y":-0.018},{"x":2.968,"y":-0.009},{"x":2.956,"y":0.002},{"x":2.964,"y":0.013},
{"x":2.984,"y":-0.019},{"x":2.976,"y":-0.007},{"x":2.988,"y":0.004},{"x":2.98,"y":0.015},
{"x":2.996,"y":-0.013},{"x":3.004,"y":-0.004},{"x":3.0,"y":0.006},{"x":3.008,"y":0.017},
{"x":3.02,"y":-0.016},{"x":3.028,"y":-0.003},{"x":3.016,"y":0.008},{"x":3.024,"y":0.018},
{"x":3.044,"y":-0.021},{"x":3.036,"y":-0.005},{"x":3.048,"y":0.005},{"x":3.04,"y":0.019},
{"x":3.056,"y":-0.022},{"x":3.064,"y":-0.01},{"x":3.06,"y":0.001},{"x":3.068,"y":0.012},
{"x":3.08,"y":-0.015},{"x":3.088,"y":-0.001},{"x":3.076,"y":0.01},{"x":3.084,"y":0.016},
{"x":3.104,"y":-0.018},{"x":3.096,"y":-0.009},{"x":3.108,"y":0.002},{"x":3.1,"y":0.013},
{"x":3.116,"y":-0.019},{"x":3.124,"y":-0.007},{"x":3.12,"y":0.004},{"x":3.128,"y":0.015},
{"x":3.14,"y":-0.013},{"x":3.148,"y":-0.004},{"x":3.136,"y":0.006},{"x":3.144,"y":0.017},
{"x":3.164,"y":-0.016},{"x":3.156,"y":-0.003},{"x":3.168,"y":0.008},{"x":3.16,"y":0.018},
{"x":3.176,"y":-0.021},{"x":3.184,"y":-0.005},{"x":3.18,"y":0.005},{"x":3.188,"y":0.019},
{"x":3.2,"y":-0.022},{"x":3.208,"y":-0.01},{"x":3.196,"y":0.001},{"x":3.204,"y":0.012},
{"x":3.224,"y":-0.015},{"x":3.216,"y":-0.001},{"x":3.228,"y":0.01},{"x":3.22,"y":0.016},
{"x":3.236,"y":-0.018},{"x":3.244,"y":-0.009},{"x":3.24,"y":0.002},{"x":3.248,"y":0.013},
{"x":3.26,"y":-0.019},{"x":3.268,"y":-0.007},{"x":3.256,"y":0.004},{"x":3.264,"y":0.015},
{"x":3.284,"y":-0.013},{"x":3.276,"y":-0.004},{"x":3.288,"y":0.006},{"x":3.28,"y":0.017},
{"x":3.296,"y":-0.016},{"x":3.304,"y":-0.003},{"x":3.3,"y":0.008},{"x":3.308,"y":0.018},
{"x":2.01,"y":-0.012},{"x":2.014,"y":0},{"x":2.006,"y":0.011},
{"x":2.03,"y":-0.017},{"x":2.034,"y":-0.006},{"x":2.026,"y":0.006},
{"x":2.05,"y":-0.009},{"x":2.054,"y":0.003},{"x":2.046,"y":0.014},
{"x":2.07,"y":-0.014},{"x":2.074,"y":-0.002},{"x":2.066,"y":0.009},
{"x":2.09,"y":-0.012},{"x":2.094,"y":0},{"x":2.086,"y":0.011},
{"x":2.11,"y":-0.017},{"x":2.114,"y":-0.006},{"x":2.106,"y":0.006},
{"x":2.13,"y":-0.009},{"x":2.134,"y":0.003},{"x":2.126,"y":0.014},
{"x":2.15,"y":-0.014},{"x":2.154,"y":-0.002},{"x":2.146,"y":0.009},
{"x":2.17,"y":-0.012},{"x":2.174,"y":0},{"x":2.166,"y":0.011},
{"x":2.19,"y":-0.017},{"x":2.194,"y":-0.006},{"x":2.186,"y":0.006},
{"x":2.21,"y":-0.009},{"x":2.214,"y":0.003},{"x":2.206,"y":0.014},
{"x":2.23,"y":-0.014},{"x":2.234,"y":-0.002},{"x":2.226,"y":0.009},
{"x":2.25,"y":-0.012},{"x":2.254,"y":0},{"x":2.246,"y":0.011},
{"x":2.27,"y":-0.017},{"x":2.274,"y":-0.006},{"x":2.266,"y":0.006},
{"x":2.29,"y":-0.009},{"x":2.294,"y":0.003},{"x":2.286,"y":0.014},
{"x":2.31,"y":-0.014},{"x":2.314,"y":-0.002},{"x":2.306,"y":0.009},
{"x":2.33,"y":-0.012},{"x":2.334,"y":0},{"x":2.326,"y":0.011},
{"x":2.35,"y":-0.017},{"x":2.354,"y":-0.006},{"x":2.346,"y":0.006},
{"x":2.37,"y":-0.009},{"x":2.374,"y":0.003},{"x":2.366,"y":0.014},
{"x":2.39,"y":-0.014},{"x":2.394,"y":-0.002},{"x":2.386,"y":0.009},
{"x":2.41,"y":-0.012},{"x":2.414,"y":0},{"x":2.406,"y":0.011},
{"x":2.43,"y":-0.017},{"x":2.434,"y":-0.006},{"x":2.426,"y":0.006},
{"x":2.45,"y":-0.009},{"x":2.454,"y":0.003},{"x":2.446,"y":0.014},
{"x":2.47,"y":-0.014},{"x":2.474,"y":-0.002},{"x":2.466,"y":0.009},
{"x":2.49,"y":-0.012},{"x":2.494,"y":0},{"x":2.486,"y":0.011},
{"x":2.51,"y":-0.017},{"x":2.514,"y":-0.006},{"x":2.506,"y":0.006},
{"x":2.53,"y":-0.009},{"x":2.534,"y":0.003},{"x":2.526,"y":0.014},
{"x":2.55,"y":-0.014},{"x":2.554,"y":-0.002},{"x":2.546,"y":0.009},
{"x":2.57,"y":-0.012},{"x":2.574,"y":0},{"x":2.566,"y":0.011},
{"x":2.59,"y":-0.017},{"x":2.594,"y":-0.006},{"x":2.586,"y":0.006},
{"x":2.61,"y":-0.009},{"x":2.614,"y":0.003},{"x":2.606,"y":0.014},
{"x":2.63,"y":-0.014},{"x":2.634,"y":-0.002},{"x":2.626,"y":0.009},
{"x":2.65,"y":-0.012},{"x":2.654,"y":0},{"x":2.646,"y":0.011},
{"x":2.67,"y":-0.017},{"x":2.674,"y":-0.006},{"x":2.666,"y":0.006},
{"x":2.69,"y":-0.009},{"x":2.694,"y":0.003},{"x":2.686,"y":0.014},
{"x":2.71,"y":-0.014},{"x":2.714,"y":-0.002},{"x":2.706,"y":0.009},
{"x":2.73,"y":-0.012},{"x":2.734,"y":0},{"x":2.726,"y":0.011},
{"x":2.75,"y":-0.017},{"x":2.754,"y":-0.006},{"x":2.746,"y":0.006},
{"x":2.77,"y":-0.009},{"x":2.774,"y":0.003},{"x":2.766,"y":0.014},
{"x":2.79,"y":-0.014},{"x":2.794,"y":-0.002},{"x":2.786,"y":0.009},
{"x":2.81,"y":-0.012},{"x":2.814,"y":0},{"x":2.806,"y":0.011},
{"x":2.83,"y":-0.017},{"x":2.834,"y":-0.006},{"x":2.826,"y":0.006},
{"x":2.85,"y":-0.009},{"x":2.854,"y":0.003},{"x":2.846,"y":0.014},
{"x":2.87,"y":-0.014},{"x":2.874,"y":-0.002},{"x":2.866,"y":0.009},
{"x":2.89,"y":-0.012},{"x":2.894,"y":0},{"x":2.886,"y":0.011},
{"x":2.91,"y":-0.017},{"x":2.914,"y":-0.006},{"x":2.906,"y":0.006},
{"x":2.93,"y":-0.009},{"x":2.934,"y":0.003},{"x":2.926,"y":0.014},
{"x":2.95,"y":-0.014},{"x":2.954,"y":-0.002},{"x":2.946,"y":0.009},
{"x":2.97,"y":-0.012},{"x":2.974,"y":0},{"x":2.966,"y":0.011},
{"x":2.99,"y":-0.017},{"x":2.994,"y":-0.006},{"x":2.986,"y":0.006},
{"x":3.01,"y":-0.009},{"x":3.014,"y":0.003},{"x":3.006,"y":0.014},
{"x":3.03,"y":-0.014},{"x":3.034,"y":-0.002},{"x":3.026,"y":0.009},
{"x":3.05,"y":-0.012},{"x":3.054,"y":0},{"x":3.046,"y":0.011},
{"x":3.07,"y":-0.017},{"x":3.074,"y":-0.006},{"x":3.066,"y":0.006},
{"x":3.09,"y":-0.009},{"x":3.094,"y":0.003},{"x":3.086,"y":0.014},
{"x":3.11,"y":-0.014},{"x":3.114,"y":-0.002},{"x":3.106,"y":0.009},
{"x":3.13,"y":-0.012},{"x":3.134,"y":0},{"x":3.126,"y":0.011},
{"x":3.15,"y":-0.017},{"x":3.154,"y":-0.006},{"x":3.146,"y":0.006},
{"x":3.17,"y":-0.009},{"x":3.174,"y":0.003},{"x":3.166,"y":0.014},
{"x":3.19,"y":-0.014},{"x":3.194,"y":-0.002},{"x":3.186,"y":0.009},
{"x":3.21,"y":-0.012},{"x":3.214,"y":0},{"x":3.206,"y":0.011},
{"x":3.23,"y":-0.017},{"x":3.234,"y":-0.006},{"x":3.226,"y":0.006},
{"x":3.25,"y":-0.009},{"x":3.254,"y":0.003},{"x":3.246,"y":0.014},
{"x":3.27,"y":-0.014},{"x":3.274,"y":-0.002},{"x":3.266,"y":0.009},
{"x":3.29,"y":-0.012},{"x":3.294,"y":0},{"x":3.286,"y":0.011},
{"x":2.03,"y":0.029},{"x":2.07,"y":-0.027},{"x":2.12,"y":0.033},{"x":2.16,"y":-0.03},{"x":2.21,"y":0.027},{"x":2.25,"y":-0.026},{"x":2.3,"y":0.031},{"x":2.35,"y":-0.029},{"x":2.39,"y":0.028},{"x":2.43,"y":-0.033},{"x":2.48,"y":0.03},{"x":2.52,"y":-0.027},{"x":2.57,"y":0.034},{"x":2.61,"y":-0.029},{"x":2.66,"y":0.027},{"x":2.7,"y":-0.031},{"x":2.75,"y":0.032},{"x":2.79,"y":-0.026},{"x":2.84,"y":0.029},{"x":2.88,"y":-0.03},{"x":2.93,"y":0.033},{"x":2.97,"y":-0.028},{"x":3.02,"y":0.027},{"x":3.06,"y":-0.032},{"x":3.11,"y":0.03},{"x":3.15,"y":-0.027},{"x":3.19,"y":0.034},{"x":3.24,"y":-0.029},{"x":3.28,"y":0.028},{"x":3.3,"y":-0.024},{"x":2.45,"y":0.038},{"x":2.62,"y":0.04},{"x":2.9,"y":-0.036},{"x":3.13,"y":0.039},{"x":2.18,"y":0.036},
{"x":2.986,"y":0.1243},{"x":2.989,"y":0.0848},{"x":3.279,"y":0.0879},{"x":3.291,"y":0.0659},{"x":3.293,"y":0.0565},{"x":3.293,"y":0.0515},{"x":2.857,"y":0.0628},{"x":2.969,"y":0.0546},{"x":3.011,"y":0.0534},{"x":3.106,"y":0.0766},{"x":3.106,"y":0.0735},{"x":2.328,"y":0.0597},{"x":2.544,"y":0.0546},{"x":2.65,"y":0.0496},{"x":2.224,"y":0.0496},{"x":2.03,"y":0.0458},{"x":2.096,"y":0.044},{"x":2.26,"y":0.0452},{"x":3.225,"y":0.0471},{"x":3.247,"y":0.0408},{"x":3.052,"y":0.0408},{"x":2.772,"y":0.044},{"x":2.838,"y":0.0345},{"x":2.92,"y":0.0327},{"x":3.2,"y":0.0377},{"x":2.6,"y":0.0377},{"x":2.45,"y":0.0364},{"x":2.129,"y":0.0345},{"x":2.376,"y":0.0345},{"x":2.739,"y":0.0345},{"x":3.143,"y":0.039},{"x":2.681,"y":-0.0408},{"x":2.683,"y":-0.0584},{"x":2.869,"y":-0.0597},{"x":2.904,"y":-0.0389},{"x":2.953,"y":-0.0421},{"x":3.035,"y":-0.0377},{"x":3.184,"y":-0.044},{"x":3.187,"y":-0.0414},{"x":3.15,"y":-0.0345},{"x":2.092,"y":-0.0314},{"x":2.186,"y":-0.0345},{"x":2.582,"y":-0.0345},{"x":2.805,"y":-0.0314},{"x":3.072,"y":-0.0283},{"x":3.233,"y":-0.0327},{"x":2.046,"y":-0.0251},{"x":2.293,"y":-0.0283},{"x":2.425,"y":-0.0314}],
"fG":[
{"x":0,"y":-0.012},{"x":0.006,"y":0},{"x":0,"y":0.012},
{"x":0.021,"y":-0.01},{"x":0.011,"y":0.002},{"x":0.018,"y":0.016},
{"x":0.029,"y":-0.015},{"x":0.036,"y":-0.003},{"x":0.039,"y":0.009},
{"x":0.048,"y":-0.008},{"x":0.054,"y":0.004},{"x":0.044,"y":0.015},
{"x":0.069,"y":-0.013},{"x":0.059,"y":-0.001},{"x":0.066,"y":0.01},
{"x":0.077,"y":-0.012},{"x":0.084,"y":0},{"x":0.087,"y":0.012},
{"x":0.096,"y":-0.01},{"x":0.102,"y":0.002},{"x":0.092,"y":0.016},
{"x":0.117,"y":-0.015},{"x":0.107,"y":-0.003},{"x":0.114,"y":0.009},
{"x":0.125,"y":-0.008},{"x":0.132,"y":0.004},{"x":0.135,"y":0.015},
{"x":0.144,"y":-0.013},{"x":0.15,"y":-0.001},{"x":0.14,"y":0.01},
{"x":0.165,"y":-0.012},{"x":0.155,"y":0},{"x":0.162,"y":0.012},
{"x":0.173,"y":-0.01},{"x":0.18,"y":0.002},{"x":0.183,"y":0.016},
{"x":0.192,"y":-0.015},{"x":0.198,"y":-0.003},{"x":0.188,"y":0.009},
{"x":0.213,"y":-0.008},{"x":0.203,"y":0.004},{"x":0.21,"y":0.015},
{"x":0.221,"y":-0.013},{"x":0.228,"y":-0.001},{"x":0.231,"y":0.01},
{"x":0.24,"y":-0.012},{"x":0.246,"y":0},{"x":0.236,"y":0.012},
{"x":0.261,"y":-0.01},{"x":0.251,"y":0.002},{"x":0.258,"y":0.016},
{"x":0.269,"y":-0.015},{"x":0.276,"y":-0.003},{"x":0.279,"y":0.009},
{"x":0.288,"y":-0.008},{"x":0.294,"y":0.004},{"x":0.284,"y":0.015},
{"x":0.309,"y":-0.013},{"x":0.299,"y":-0.001},{"x":0.306,"y":0.01},
{"x":0.317,"y":-0.012},{"x":0.324,"y":0},{"x":0.327,"y":0.012},
{"x":0.336,"y":-0.01},{"x":0.342,"y":0.002},{"x":0.332,"y":0.016},
{"x":0.357,"y":-0.015},{"x":0.347,"y":-0.003},{"x":0.354,"y":0.009},
{"x":0.365,"y":-0.008},{"x":0.372,"y":0.004},{"x":0.375,"y":0.015},
{"x":0.384,"y":-0.013},{"x":0.39,"y":-0.001},{"x":0.38,"y":0.01},
{"x":0.405,"y":-0.012},{"x":0.395,"y":0},{"x":0.402,"y":0.012},
{"x":0.413,"y":-0.01},{"x":0.42,"y":0.002},{"x":0.423,"y":0.016},
{"x":0.432,"y":-0.015},{"x":0.438,"y":-0.003},{"x":0.428,"y":0.009},
{"x":0.453,"y":-0.008},{"x":0.443,"y":0.004},{"x":0.45,"y":0.015},
{"x":0.461,"y":-0.013},{"x":0.468,"y":-0.001},{"x":0.471,"y":0.01},
{"x":0.48,"y":-0.012},{"x":0.486,"y":0},{"x":0.476,"y":0.012},
{"x":0.501,"y":-0.01},{"x":0.491,"y":0.002},{"x":0.498,"y":0.016},
{"x":0.509,"y":-0.015},{"x":0.516,"y":-0.003},{"x":0.519,"y":0.009},
{"x":0.528,"y":-0.008},{"x":0.534,"y":0.004},{"x":0.524,"y":0.015},
{"x":0.549,"y":-0.013},{"x":0.539,"y":-0.001},{"x":0.546,"y":0.01},
{"x":0.557,"y":-0.012},{"x":0.564,"y":0},{"x":0.567,"y":0.012},
{"x":0.576,"y":-0.01},{"x":0.582,"y":0.002},{"x":0.572,"y":0.016},
{"x":0.597,"y":-0.015},{"x":0.587,"y":-0.003},{"x":0.594,"y":0.009},
{"x":0.605,"y":-0.008},{"x":0.612,"y":0.004},{"x":0.615,"y":0.015},
{"x":0.624,"y":-0.013},{"x":0.63,"y":-0.001},{"x":0.62,"y":0.01},
{"x":0.645,"y":-0.012},{"x":0.635,"y":0},{"x":0.642,"y":0.012},
{"x":0.653,"y":-0.01},{"x":0.66,"y":0.002},{"x":0.663,"y":0.016},
{"x":0.672,"y":-0.015},{"x":0.678,"y":-0.003},{"x":0.668,"y":0.009},
{"x":0.693,"y":-0.008},{"x":0.683,"y":0.004},{"x":0.69,"y":0.015},
{"x":0.701,"y":-0.013},{"x":0.708,"y":-0.001},{"x":0.711,"y":0.01},
{"x":0.72,"y":-0.012},{"x":0.726,"y":0},{"x":0.716,"y":0.012},
{"x":0.741,"y":-0.01},{"x":0.731,"y":0.002},{"x":0.738,"y":0.016},
{"x":0.749,"y":-0.015},{"x":0.756,"y":-0.003},{"x":0.759,"y":0.009},
{"x":0.768,"y":-0.008},{"x":0.774,"y":0.004},{"x":0.764,"y":0.015},
{"x":0.789,"y":-0.013},{"x":0.779,"y":-0.001},{"x":0.786,"y":0.01},
{"x":0.797,"y":-0.012},{"x":0.804,"y":0},{"x":0.807,"y":0.012},
{"x":0.816,"y":-0.01},{"x":0.822,"y":0.002},{"x":0.812,"y":0.016},
{"x":0.837,"y":-0.015},{"x":0.827,"y":-0.003},{"x":0.834,"y":0.009},
{"x":0.845,"y":-0.008},{"x":0.852,"y":0.004},{"x":0.855,"y":0.015},
{"x":0.864,"y":-0.013},{"x":0.87,"y":-0.001},{"x":0.86,"y":0.01},
{"x":0.885,"y":-0.012},{"x":0.875,"y":0},{"x":0.882,"y":0.012},
{"x":0.893,"y":-0.01},{"x":0.9,"y":0.002},{"x":0.903,"y":0.016},
{"x":0.912,"y":-0.015},{"x":0.918,"y":-0.003},{"x":0.908,"y":0.009},
{"x":0.933,"y":-0.008},{"x":0.923,"y":0.004},{"x":0.93,"y":0.015},
{"x":0.941,"y":-0.013},{"x":0.948,"y":-0.001},{"x":0.951,"y":0.01},
{"x":0.96,"y":-0.012},{"x":0.966,"y":0},{"x":0.956,"y":0.012},
{"x":0.981,"y":-0.01},{"x":0.971,"y":0.002},{"x":0.978,"y":0.016},
{"x":0.989,"y":-0.015},{"x":0.996,"y":-0.003},{"x":0.999,"y":0.009},
{"x":1.008,"y":-0.008},{"x":1.014,"y":0.004},{"x":1.004,"y":0.015},
{"x":1.029,"y":-0.013},{"x":1.019,"y":-0.001},{"x":1.026,"y":0.01},
{"x":1.037,"y":-0.012},{"x":1.044,"y":0},{"x":1.047,"y":0.012},
{"x":0.008,"y":-0.006},{"x":0.012,"y":0.006},{"x":0.024,"y":-0.009},{"x":0.028,"y":0.004},{"x":0.04,"y":-0.004},{"x":0.044,"y":0.009},{"x":0.056,"y":-0.007},{"x":0.06,"y":0.002},
{"x":0.072,"y":-0.006},{"x":0.076,"y":0.006},{"x":0.088,"y":-0.009},{"x":0.092,"y":0.004},{"x":0.104,"y":-0.004},{"x":0.108,"y":0.009},{"x":0.12,"y":-0.007},{"x":0.124,"y":0.002},
{"x":0.136,"y":-0.006},{"x":0.14,"y":0.006},{"x":0.152,"y":-0.009},{"x":0.156,"y":0.004},{"x":0.168,"y":-0.004},{"x":0.172,"y":0.009},{"x":0.184,"y":-0.007},{"x":0.188,"y":0.002},
{"x":0.2,"y":-0.006},{"x":0.204,"y":0.006},{"x":0.216,"y":-0.009},{"x":0.22,"y":0.004},{"x":0.232,"y":-0.004},{"x":0.236,"y":0.009},{"x":0.248,"y":-0.007},{"x":0.252,"y":0.002},
{"x":0.264,"y":-0.006},{"x":0.268,"y":0.006},{"x":0.28,"y":-0.009},{"x":0.284,"y":0.004},{"x":0.296,"y":-0.004},{"x":0.3,"y":0.009},{"x":0.312,"y":-0.007},{"x":0.316,"y":0.002},
{"x":0.328,"y":-0.006},{"x":0.332,"y":0.006},{"x":0.344,"y":-0.009},{"x":0.348,"y":0.004},{"x":0.36,"y":-0.004},{"x":0.364,"y":0.009},{"x":0.376,"y":-0.007},{"x":0.38,"y":0.002},
{"x":0.392,"y":-0.006},{"x":0.396,"y":0.006},{"x":0.408,"y":-0.009},{"x":0.412,"y":0.004},{"x":0.424,"y":-0.004},{"x":0.428,"y":0.009},{"x":0.44,"y":-0.007},{"x":0.444,"y":0.002},
{"x":0.456,"y":-0.006},{"x":0.46,"y":0.006},{"x":0.472,"y":-0.009},{"x":0.476,"y":0.004},{"x":0.488,"y":-0.004},{"x":0.492,"y":0.009},{"x":0.504,"y":-0.007},{"x":0.508,"y":0.002},
{"x":0.52,"y":-0.006},{"x":0.524,"y":0.006},{"x":0.536,"y":-0.009},{"x":0.54,"y":0.004},{"x":0.552,"y":-0.004},{"x":0.556,"y":0.009},{"x":0.568,"y":-0.007},{"x":0.572,"y":0.002},
{"x":0.584,"y":-0.006},{"x":0.588,"y":0.006},{"x":0.6,"y":-0.009},{"x":0.604,"y":0.004},{"x":0.616,"y":-0.004},{"x":0.62,"y":0.009},{"x":0.632,"y":-0.007},{"x":0.636,"y":0.002},
{"x":0.648,"y":-0.006},{"x":0.652,"y":0.006},{"x":0.664,"y":-0.009},{"x":0.668,"y":0.004},{"x":0.68,"y":-0.004},{"x":0.684,"y":0.009},{"x":0.696,"y":-0.007},{"x":0.7,"y":0.002},
{"x":0.712,"y":-0.006},{"x":0.716,"y":0.006},{"x":0.728,"y":-0.009},{"x":0.732,"y":0.004},{"x":0.744,"y":-0.004},{"x":0.748,"y":0.009},{"x":0.76,"y":-0.007},{"x":0.764,"y":0.002},
{"x":0.776,"y":-0.006},{"x":0.78,"y":0.006},{"x":0.792,"y":-0.009},{"x":0.796,"y":0.004},{"x":0.808,"y":-0.004},{"x":0.812,"y":0.009},{"x":0.824,"y":-0.007},{"x":0.828,"y":0.002},
{"x":0.84,"y":-0.006},{"x":0.844,"y":0.006},{"x":0.856,"y":-0.009},{"x":0.86,"y":0.004},{"x":0.872,"y":-0.004},{"x":0.876,"y":0.009},{"x":0.888,"y":-0.007},{"x":0.892,"y":0.002},
{"x":0.904,"y":-0.006},{"x":0.908,"y":0.006},{"x":0.92,"y":-0.009},{"x":0.924,"y":0.004},{"x":0.936,"y":-0.004},{"x":0.94,"y":0.009},{"x":0.952,"y":-0.007},{"x":0.956,"y":0.002},
{"x":0.968,"y":-0.006},{"x":0.972,"y":0.006},{"x":0.984,"y":-0.009},{"x":0.988,"y":0.004},{"x":1.0,"y":-0.004},{"x":1.004,"y":0.009},{"x":1.016,"y":-0.007},{"x":1.02,"y":0.002},
{"x":1.032,"y":-0.006},{"x":1.036,"y":0.006},
{"x":0.02,"y":0.024},{"x":0.06,"y":-0.02},{"x":0.11,"y":0.027},{"x":0.15,"y":-0.022},{"x":0.19,"y":0.025},{"x":0.22,"y":-0.019},{"x":0.27,"y":0.023},{"x":0.31,"y":-0.021},{"x":0.35,"y":0.026},{"x":0.39,"y":-0.02},{"x":0.44,"y":0.024},{"x":0.48,"y":-0.022},{"x":0.53,"y":0.025},{"x":0.57,"y":-0.019},{"x":0.61,"y":0.027},{"x":0.65,"y":-0.021},{"x":0.69,"y":0.023},{"x":0.73,"y":-0.02},{"x":0.77,"y":0.026},{"x":0.81,"y":-0.022},{"x":0.86,"y":0.024},{"x":0.9,"y":-0.019},{"x":0.94,"y":0.025},{"x":0.98,"y":-0.021},{"x":1.02,"y":0.023},{"x":1.04,"y":-0.02},{"x":0.25,"y":0.033},{"x":0.24,"y":-0.026},{"x":0.26,"y":0.029},{"x":0.23,"y":0.038},{"x":0.53,"y":0.03},{"x":0.54,"y":-0.018},
{"x":0.017,"y":0.0769},{"x":0.047,"y":0.043},{"x":0.094,"y":0.0317},{"x":0.183,"y":0.0558},{"x":0.199,"y":0.0543},{"x":0.236,"y":0.0731},{"x":0.237,"y":0.0694},{"x":0.238,"y":0.0633},{"x":0.232,"y":0.0445},{"x":0.279,"y":0.0784},{"x":0.3,"y":0.0392},{"x":0.158,"y":0.0317},{"x":0.532,"y":0.0505},{"x":0.535,"y":0.0452},{"x":0.57,"y":0.043},{"x":0.631,"y":0.0392},{"x":0.696,"y":0.0445},{"x":0.74,"y":0.0407},{"x":0.773,"y":0.0392},{"x":0.851,"y":0.0407},{"x":0.974,"y":0.0422},{"x":1.011,"y":0.0407},{"x":1.021,"y":0.0264},{"x":0.425,"y":0.0369},{"x":0.341,"y":0.0302},{"x":0.119,"y":0.0354},{"x":0.205,"y":0.0354},{"x":0.254,"y":0.0317},{"x":0.402,"y":0.0354},{"x":0.477,"y":0.0317},{"x":0.662,"y":0.0317},{"x":0.822,"y":0.0332},{"x":0.884,"y":0.0302},{"x":0.933,"y":0.0279},{"x":0.158,"y":-0.0716},{"x":0.212,"y":-0.0724},{"x":0.158,"y":-0.046},{"x":0.254,"y":-0.0475},{"x":0.26,"y":-0.0513},{"x":0.917,"y":-0.0309},{"x":1.031,"y":-0.0385},{"x":1.032,"y":-0.0535},{"x":1.051,"y":-0.049},{"x":1.042,"y":-0.0603},{"x":1.051,"y":-0.0618},{"x":0.664,"y":-0.0324},{"x":0.402,"y":-0.0309},{"x":0.267,"y":-0.0362},{"x":0.242,"y":-0.0287},{"x":0.248,"y":-0.0211},{"x":0.452,"y":-0.0324},{"x":0.588,"y":-0.0287},{"x":0.76,"y":-0.0271},{"x":0.533,"y":0.035},{"x":0.534,"y":0.028},{"x":0.532,"y":0.022},{"x":0.235,"y":0.05},{"x":0.24,"y":0.035},{"x":0.245,"y":0.028},{"x":0.25,"y":-0.035},{"x":0.243,"y":-0.04}]
},
"concat":[
{"width":345,"height":183,
 "layer":[
  {"data":{"name":"eA"},"mark":{"type":"rule"},
   "encoding":{"x":{"field":"x","type":"quantitative","scale":{"domain":[-1,1],"range":[27,263],"nice":false,"zero":false},"axis":null},
    "y":{"field":"y","type":"quantitative","scale":{"domain":[-1,1],"range":[164,14],"nice":false,"zero":false},"axis":null},
    "x2":{"field":"x2"},"y2":{"field":"y2"},
    "stroke":{"field":"reg","type":"nominal","scale":{"domain":["Fur","LexA","CopR","McbR","PyrR"],"range":["#1f77b4","#d62728","#d62728","#d62728","#d62728"]},"legend":null},
    "strokeWidth":{"field":"w","type":"quantitative","scale":{"domain":[0,1],"range":[0,8]},"legend":null}}},
  {"data":{"name":"nA"},"mark":{"type":"point","filled":true,"size":110,"stroke":"#333","strokeWidth":0.8,"opacity":1},
   "encoding":{"x":{"field":"x","type":"quantitative"},"y":{"field":"y","type":"quantitative"},
    "fill":{"field":"type","type":"nominal","scale":{"domain":["gene","reg"],"range":["#ff7f0e","#e066f0"]},"legend":null}}},
  {"data":{"name":"nA"},"mark":{"type":"text","fontWeight":"bold","font":"DejaVu Sans","color":"black"},
   "encoding":{"x":{"field":"lx","type":"quantitative"},"y":{"field":"ly","type":"quantitative"},"text":{"field":"id","type":"nominal"},
    "size":{"condition":{"test":"datum.type==='reg'","value":14},"value":11.5}}},
  {"data":{"values":[{}]},"mark":{"type":"text","text":"(A)","fontSize":18,"fontWeight":"bold","color":"black"},
   "encoding":{"x":{"datum":-0.992,"type":"quantitative"},"y":{"datum":1.067,"type":"quantitative"}}}
 ]},
{"width":287,"height":178,"view":{"stroke":"#444","strokeWidth":0.8},
 "layer":[
  {"data":{"name":"bG"},"mark":{"type":"circle","size":38,"color":"#7f7f7f","opacity":1},
   "encoding":{"x":{"field":"x","type":"quantitative","scale":{"domain":[-0.18,3.48],"nice":false,"zero":false},"axis":{"title":"Gene start(bp)","values":[0,0.5,1,1.5,2,2.5,3],"format":".1f","titlePadding":2}},
    "y":{"field":"y","type":"quantitative","scale":{"domain":[-0.085,0.249],"nice":false,"zero":false},"axis":{"title":"Fur/LexA IM gene weight","values":[-0.05,0,0.05,0.1,0.15,0.2],"format":".2f","titlePadding":4}}}},
  {"data":{"values":[{}]},"mark":{"type":"rule","color":"black","strokeDash":[4,2],"strokeWidth":1.3},"encoding":{"y":{"datum":0,"type":"quantitative"}}},
  {"data":{"values":[{}]},"mark":{"type":"rule","color":"#f03c3c","strokeDash":[4,2],"strokeWidth":1.3},"encoding":{"y":{"datum":0.1388,"type":"quantitative"}}},
  {"data":{"name":"bH"},"mark":{"type":"circle","size":36,"color":"#ff7f0e","opacity":1},"encoding":{"x":{"field":"x","type":"quantitative"},"y":{"field":"y","type":"quantitative"}}},
  {"data":{"name":"bH"},"mark":{"type":"text","fontSize":9.5,"color":"black"},"encoding":{"x":{"field":"lx","type":"quantitative"},"y":{"field":"ly","type":"quantitative"},"text":{"field":"id","type":"nominal"}}},
  {"data":{"values":[{}]},"mark":{"type":"text","text":"(B)","fontSize":18,"fontWeight":"bold","color":"black"},"encoding":{"x":{"datum":-0.767,"type":"quantitative"},"y":{"datum":0.232,"type":"quantitative"}}},
  {"data":{"values":[{}]},"mark":{"type":"text","text":"1e6","fontSize":6,"color":"#222"},"encoding":{"x":{"datum":3.416,"type":"quantitative"},"y":{"datum":-0.115,"type":"quantitative"}}}
 ]},
{"width":359,"height":183,
 "layer":[
  {"data":{"name":"eC"},"mark":{"type":"rule"},
   "encoding":{"x":{"field":"x","type":"quantitative","scale":{"domain":[-1,1],"range":[20,278],"nice":false,"zero":false},"axis":null},
    "y":{"field":"y","type":"quantitative","scale":{"domain":[-1,1],"range":[170,12],"nice":false,"zero":false},"axis":null},
    "x2":{"field":"x2"},"y2":{"field":"y2"},
    "stroke":{"field":"reg","type":"nominal","scale":{"domain":["Fur","LexA","CopR","McbR","PyrR"],"range":["#1f77b4","#d62728","#d62728","#d62728","#d62728"]},"legend":null},
    "strokeWidth":{"field":"w","type":"quantitative","scale":{"domain":[0,1],"range":[0,8]},"legend":null}}},
  {"data":{"name":"nC"},"mark":{"type":"point","filled":true,"size":110,"stroke":"#333","strokeWidth":0.8,"opacity":1},
   "encoding":{"x":{"field":"x","type":"quantitative"},"y":{"field":"y","type":"quantitative"},
    "fill":{"field":"type","type":"nominal","scale":{"domain":["gene","reg"],"range":["#ff7f0e","#e066f0"]},"legend":null}}},
  {"data":{"name":"nC"},"mark":{"type":"text","fontWeight":"bold","font":"DejaVu Sans","color":"black"},
   "encoding":{"x":{"field":"lx","type":"quantitative"},"y":{"field":"ly","type":"quantitative"},"text":{"field":"id","type":"nominal"},
    "size":{"condition":{"test":"datum.type==='reg'","value":14},"value":11.5}}},
  {"data":{"values":[{}]},"mark":{"type":"text","text":"(C)","fontSize":18,"fontWeight":"bold","color":"black"},
   "encoding":{"x":{"datum":-0.93,"type":"quantitative"},"y":{"datum":1.038,"type":"quantitative"}}},
  {"data":{"name":"banner"},"mark":{"type":"rect","color":"#d65be0"},
   "encoding":{"x":{"field":"x","type":"quantitative"},"x2":{"field":"x2"},"y":{"field":"y","type":"quantitative"},"y2":{"field":"y2"}}}
 ]},
{"width":280,"height":183,"view":{"stroke":"#444","strokeWidth":0.8},
 "layer":[
  {"data":{"name":"dG"},"mark":{"type":"circle","size":38,"color":"#7f7f7f","opacity":1},
   "encoding":{"x":{"field":"x","type":"quantitative","scale":{"domain":[2.0,3.385],"nice":false,"zero":false},"axis":{"title":"Gene start(bp)","values":[2.0,2.2,2.4,2.6,2.8,3.0,3.2],"format":".1f","titlePadding":2}},
    "y":{"field":"y","type":"quantitative","scale":{"domain":[-0.0912,0.2531],"nice":false,"zero":false},"axis":{"title":"CopR IM gene weight","values":[-0.05,0,0.05,0.1,0.15,0.2,0.25],"format":".2f","titlePadding":4}}}},
  {"data":{"values":[{}]},"mark":{"type":"rule","color":"black","strokeDash":[4,2],"strokeWidth":1.3},"encoding":{"y":{"datum":0,"type":"quantitative"}}},
  {"data":{"values":[{}]},"mark":{"type":"rule","color":"#f03c3c","strokeDash":[4,2],"strokeWidth":1.3},"encoding":{"y":{"datum":0.174,"type":"quantitative"}}},
  {"data":{"name":"dH"},"mark":{"type":"circle","size":36,"color":"#ff7f0e","opacity":1},"encoding":{"x":{"field":"x","type":"quantitative"},"y":{"field":"y","type":"quantitative"}}},
  {"data":{"name":"dH"},"mark":{"type":"text","fontSize":9.5,"color":"black"},"encoding":{"x":{"field":"lx","type":"quantitative"},"y":{"field":"ly","type":"quantitative"},"text":{"field":"id","type":"nominal"}}},
  {"data":{"values":[{}]},"mark":{"type":"text","text":"(D)","fontSize":18,"fontWeight":"bold","color":"black"},"encoding":{"x":{"datum":1.743,"type":"quantitative"},"y":{"datum":0.236,"type":"quantitative"}}}
 ]},
{"width":345,"height":186,
 "layer":[
  {"data":{"name":"eE"},"mark":{"type":"rule"},
   "encoding":{"x":{"field":"x","type":"quantitative","scale":{"domain":[-1,1],"range":[7,267],"nice":false,"zero":false},"axis":null},
    "y":{"field":"y","type":"quantitative","scale":{"domain":[-1,1],"range":[169,13],"nice":false,"zero":false},"axis":null},
    "x2":{"field":"x2"},"y2":{"field":"y2"},
    "stroke":{"field":"reg","type":"nominal","scale":{"domain":["Fur","LexA","CopR","McbR","PyrR"],"range":["#1f77b4","#d62728","#d62728","#d62728","#d62728"]},"legend":null},
    "strokeWidth":{"field":"w","type":"quantitative","scale":{"domain":[0,1],"range":[0,8]},"legend":null}}},
  {"data":{"name":"nE"},"mark":{"type":"point","filled":true,"size":110,"stroke":"#333","strokeWidth":0.8,"opacity":1},
   "encoding":{"x":{"field":"x","type":"quantitative"},"y":{"field":"y","type":"quantitative"},
    "fill":{"field":"type","type":"nominal","scale":{"domain":["gene","reg"],"range":["#ff7f0e","#e066f0"]},"legend":null}}},
  {"data":{"name":"nE"},"mark":{"type":"text","fontWeight":"bold","font":"DejaVu Sans","color":"black"},
   "encoding":{"x":{"field":"lx","type":"quantitative"},"y":{"field":"ly","type":"quantitative"},"text":{"field":"id","type":"nominal"},
    "size":{"condition":{"test":"datum.type==='reg'","value":14},"value":11.5}}},
  {"data":{"values":[{}]},"mark":{"type":"text","text":"(E)","fontSize":18,"fontWeight":"bold","color":"black"},
   "encoding":{"x":{"datum":-0.831,"type":"quantitative"},"y":{"datum":1.385,"type":"quantitative"}}}
 ]},
{"width":287,"height":181,"view":{"stroke":"#444","strokeWidth":0.8},
 "layer":[
  {"data":{"name":"fG"},"mark":{"type":"circle","size":38,"color":"#7f7f7f","opacity":1},
   "encoding":{"x":{"field":"x","type":"quantitative","scale":{"domain":[-0.011,1.053],"nice":false,"zero":false},"axis":{"title":"Gene start(bp)","values":[0,0.2,0.4,0.6,0.8,1.0],"format":".1f","titlePadding":2}},
    "y":{"field":"y","type":"quantitative","scale":{"domain":[-0.149,0.26],"nice":false,"zero":false},"axis":{"title":"McbR IM gene weight","values":[-0.1,-0.05,0,0.05,0.1,0.15,0.2,0.25],"format":".2f","titlePadding":4}}}},
  {"data":{"values":[{}]},"mark":{"type":"rule","color":"black","strokeDash":[4,2],"strokeWidth":1.3},"encoding":{"y":{"datum":0,"type":"quantitative"}}},
  {"data":{"values":[{}]},"mark":{"type":"rule","color":"#f03c3c","strokeDash":[4,2],"strokeWidth":1.3},"encoding":{"y":{"datum":0.1433,"type":"quantitative"}}},
  {"data":{"name":"fH"},"mark":{"type":"circle","size":36,"color":"#ff7f0e","opacity":1},"encoding":{"x":{"field":"x","type":"quantitative"},"y":{"field":"y","type":"quantitative"}}},
  {"data":{"name":"fH"},"mark":{"type":"text","fontSize":9.5,"color":"black"},"encoding":{"x":{"field":"lx","type":"quantitative"},"y":{"field":"ly","type":"quantitative"},"text":{"field":"id","type":"nominal"}}},
  {"data":{"values":[{}]},"mark":{"type":"text","text":"(F)","fontSize":18,"fontWeight":"bold","color":"black"},"encoding":{"x":{"datum":-0.178,"type":"quantitative"},"y":{"datum":0.298,"type":"quantitative"}}},
  {"data":{"values":[{}]},"mark":{"type":"text","text":"1e6","fontSize":6,"color":"#222"},"encoding":{"x":{"datum":1.027,"type":"quantitative"},"y":{"datum":-0.185,"type":"quantitative"}}}
 ]},
{"width":359,"height":186,
 "layer":[
  {"data":{"name":"eG"},"mark":{"type":"rule"},
   "encoding":{"x":{"field":"x","type":"quantitative","scale":{"domain":[-1,1],"range":[34,273],"nice":false,"zero":false},"axis":null},
    "y":{"field":"y","type":"quantitative","scale":{"domain":[-1,1],"range":[175,5],"nice":false,"zero":false},"axis":null},
    "x2":{"field":"x2"},"y2":{"field":"y2"},
    "stroke":{"field":"reg","type":"nominal","scale":{"domain":["Fur","LexA","CopR","McbR","PyrR"],"range":["#1f77b4","#d62728","#d62728","#d62728","#d62728"]},"legend":null},
    "strokeWidth":{"field":"w","type":"quantitative","scale":{"domain":[0,1],"range":[0,8]},"legend":null}}},
  {"data":{"name":"nG"},"mark":{"type":"point","filled":true,"size":110,"stroke":"#333","strokeWidth":0.8,"opacity":1},
   "encoding":{"x":{"field":"x","type":"quantitative"},"y":{"field":"y","type":"quantitative"},
    "fill":{"field":"type","type":"nominal","scale":{"domain":["gene","reg"],"range":["#ff7f0e","#e066f0"]},"legend":null}}},
  {"data":{"name":"nG"},"mark":{"type":"text","fontWeight":"bold","font":"DejaVu Sans","color":"black"},
   "encoding":{"x":{"field":"lx","type":"quantitative"},"y":{"field":"ly","type":"quantitative"},"text":{"field":"id","type":"nominal"},
    "size":{"condition":{"test":"datum.type==='reg'","value":14},"value":11.5}}},
  {"data":{"values":[{}]},"mark":{"type":"text","text":"(G)","fontSize":18,"fontWeight":"bold","color":"black"},
   "encoding":{"x":{"datum":-1.067,"type":"quantitative"},"y":{"datum":1.259,"type":"quantitative"}}}
 ]},
{"width":280,"height":190,
 "layer":[
  {"layer":[
    {"data":{"name":"venn"},"mark":{"type":"point","filled":true,"opacity":1,"stroke":"#777","strokeWidth":1},
     "encoding":{"x":{"field":"x","type":"quantitative","scale":{"domain":[-1,1],"range":[69.3,196.3],"nice":false,"zero":false},"axis":null},
      "y":{"field":"y","type":"quantitative","scale":{"domain":[-1,1],"range":[131.5,4.5],"nice":false,"zero":false},"axis":null},
      "size":{"field":"count","type":"quantitative","scale":{"type":"pow","exponent":1.19,"domain":[0,11],"range":[0,16129]},"legend":null},
      "fill":{"field":"set","type":"nominal","scale":{"domain":["PyrR","IM-36"],"range":["#99cc99","#dfbf9b"]},"legend":null}}},
    {"data":{"name":"vtext"},"mark":{"type":"text","font":"Liberation Serif","fontWeight":"bold","fontSize":15,"color":"black"},
     "encoding":{"x":{"field":"x","type":"quantitative"},"y":{"field":"y","type":"quantitative"},"text":{"field":"t","type":"nominal"}}},
    {"data":{"values":[{}]},"mark":{"type":"text","text":"(H)","fontSize":18,"fontWeight":"bold","color":"black"},
     "encoding":{"x":{"datum":-2.926,"type":"quantitative"},"y":{"datum":1.339,"type":"quantitative"}}}
  ]},
  {"data":{"name":"genes"},
   "layer":[
    {"data":{"values":[{"a":2397513,"b":2408528,"lv":0}]},"mark":{"type":"rule","color":"#666","strokeWidth":1},
     "encoding":{"x":{"field":"a","type":"quantitative","scale":{"domain":[2397711,2408805],"nice":false,"zero":false},
       "axis":{"orient":"bottom","title":null,"domain":false,"labels":false,"values":[2398000,2399500,2401000,2402500,2404000,2405500,2407000,2408500],"tickColor":"#aaa","tickSize":3}},
      "x2":{"field":"b"},
      "y":{"field":"lv","type":"quantitative","scale":{"domain":[0,4],"range":[185,131],"nice":false,"zero":false},"axis":null}}},
    {"data":{"name":"gticks"},"mark":{"type":"text","fontSize":5.5,"color":"#999","baseline":"top"},
     "encoding":{"x":{"field":"bp","type":"quantitative"},"y":{"datum":-0.78,"type":"quantitative"},"text":{"field":"lab","type":"nominal"}}},
    {"transform":[{"filter":"datum.inside==0"}],"mark":{"type":"rule","color":"#999","strokeWidth":0.8},
     "encoding":{"x":{"field":"lx","type":"quantitative"},"y":{"field":"glevel","type":"quantitative"},"y2":{"field":"llevel"}}},
    {"mark":{"type":"bar","height":10,"xOffset":7,"stroke":"#444","strokeWidth":0.6},
     "encoding":{"x":{"field":"left","type":"quantitative"},"x2":{"field":"right"},"y":{"field":"glevel","type":"quantitative"},
      "color":{"condition":{"test":"datum.grp==='green'","value":"#2ca02c"},"value":"#ff7f0e"}}},
    {"mark":{"type":"point","shape":"M0.12,-0.714L-1,0L0.12,0.714","size":196,"xOffset":7,"filled":true,"opacity":1,"stroke":"#444","strokeWidth":0.6},
     "encoding":{"x":{"field":"left","type":"quantitative"},"y":{"field":"glevel","type":"quantitative"},
      "color":{"condition":{"test":"datum.grp==='green'","value":"#2ca02c"},"value":"#ff7f0e"}}},
    {"transform":[{"filter":"datum.inside==0"}],"mark":{"type":"point","shape":"M-1,-0.205L1,-0.205L1,0.205L-1,0.205Z","size":2209,"filled":true,"opacity":1,"strokeWidth":0.8},
     "encoding":{"x":{"field":"lx","type":"quantitative"},"y":{"field":"llevel","type":"quantitative"},
      "color":{"condition":{"test":"datum.grp==='green'","value":"#eaf6ea"},"value":"#fdeade"},
      "stroke":{"condition":{"test":"datum.grp==='green'","value":"#a9cfa9"},"value":"#dcc0ae"}}},
    {"mark":{"type":"text","fontSize":6,"color":"#333"},
     "encoding":{"x":{"field":"lx","type":"quantitative"},"y":{"field":"llevel","type":"quantitative"},"text":{"field":"label","type":"nominal"}}}
   ]}
 ],
 "resolve":{"scale":{"x":"independent","y":"independent"}}}
]
}
